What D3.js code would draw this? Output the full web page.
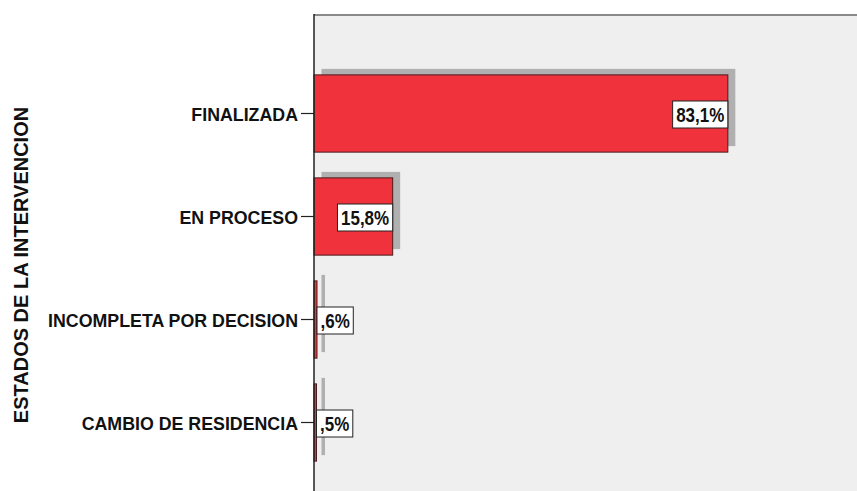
<!DOCTYPE html>
<html>
<head>
<meta charset="utf-8">
<script src="https://cdn.jsdelivr.net/npm/d3@7"></script>
<style>
  html, body { margin: 0; padding: 0; background: #ffffff; }
  svg { display: block; font-family: "Liberation Sans", Arial, sans-serif; }
</style>
</head>
<body>
<svg id="chart" width="857" height="491"></svg>
<script>
// Estados de la intervención: porcentaje de casos
const categories = ["FINALIZADA", "EN PROCESO", "INCOMPLETA POR DECISION", "CAMBIO DE RESIDENCIA"];
const percents = [83.1, 15.8, 0.6, 0.5];
const axisTitle = "ESTADOS DE LA INTERVENCION";

const W = 857, H = 491;
const plot = { left: 314, top: 15, right: 857, bottom: 491 };

const svg = d3.select("#chart");

const defs = svg.append("defs");
defs.append("filter").attr("id", "soft")
  .attr("x", "-20%").attr("y", "-20%").attr("width", "140%").attr("height", "140%")
  .append("feGaussianBlur").attr("stdDeviation", 0.7);

const x = d3.scaleLinear().domain([0, 100]).range([plot.left, 812]);
const y = d3.scaleBand().domain(categories).range([62, 474])
  .paddingInner(0.25).paddingOuter(0.125);

// Spanish decimal style without leading zero
const fmt = v => {
  let s = d3.format(".1f")(v).replace(".", ",");
  if (s.startsWith("0,")) s = s.slice(1);
  return s + "%";
};

const data = categories.map((c, i) => ({ cat: c, val: percents[i] }));

// plot background
svg.append("rect")
  .attr("x", plot.left).attr("y", plot.top)
  .attr("width", plot.right - plot.left).attr("height", plot.bottom - plot.top)
  .attr("fill", "#efefef");

// top frame line
svg.append("line")
  .attr("x1", plot.left).attr("x2", plot.right)
  .attr("y1", plot.top).attr("y2", plot.top)
  .attr("stroke", "#8a8a8a").attr("stroke-width", 2);

// bar shadows
svg.append("g").attr("filter", "url(#soft)")
  .selectAll("rect").data(data).join("rect")
  .attr("x", x(0) + 7.5)
  .attr("y", d => y(d.cat) - 6)
  .attr("width", d => Math.max(3.5, x(d.val) - x(0)))
  .attr("height", y.bandwidth())
  .attr("fill", "#b0b0b0");

// bars
svg.append("g")
  .selectAll("rect").data(data).join("rect")
  .attr("x", x(0))
  .attr("y", d => y(d.cat))
  .attr("width", d => x(d.val) - x(0))
  .attr("height", y.bandwidth())
  .attr("fill", "#ef323b")
  .attr("stroke", "#4a1a1c")
  .attr("stroke-width", 1);

// category axis
const yAxis = d3.axisLeft(y).tickSize(13).tickPadding(3);
const gy = svg.append("g").attr("transform", `translate(${plot.left},0)`).call(yAxis);
gy.select(".domain").remove();
gy.selectAll(".tick line").attr("stroke", "#222").attr("stroke-width", 1.2);
gy.selectAll(".tick text")
  .attr("fill", "#111")
  .attr("font-size", "17.8px")
  .attr("font-weight", "bold")
  .attr("font-family", "'Liberation Sans', Arial, sans-serif")
  .attr("dy", "0.4em");

// left axis line
svg.append("line")
  .attr("x1", plot.left).attr("x2", plot.left)
  .attr("y1", plot.top - 1).attr("y2", plot.bottom)
  .attr("stroke", "#222").attr("stroke-width", 1.5);

// value labels
const labels = svg.append("g");
data.forEach(d => {
  const g = labels.append("g");
  const t = g.append("text")
    .text(fmt(d.val))
    .attr("font-size", "17px")
    .attr("font-weight", "bold")
    .attr("fill", "#111");
  const tw = t.node().getComputedTextLength();
  const bw = tw + 7, bh = 27;
  const end = x(d.val);
  const bx = (end - x(0) > bw + 4) ? end - bw : end;
  const cy = y(d.cat) + y.bandwidth() / 2 + 1;
  g.insert("rect", "text")
    .attr("x", bx).attr("y", cy - bh / 2)
    .attr("width", bw).attr("height", bh)
    .attr("fill", "#ffffff")
    .attr("stroke", "#222").attr("stroke-width", 1);
  t.attr("text-anchor", "middle")
   .attr("transform", `translate(${bx + bw / 2},${cy + 7}) scale(1,1.15)`);
});

// axis title
svg.append("text")
  .attr("transform", `translate(28,265) rotate(-90)`)
  .attr("text-anchor", "middle")
  .attr("font-size", "20px")
  .attr("font-weight", "bold")
  .attr("fill", "#111")
  .text(axisTitle);
</script>
</body>
</html>
